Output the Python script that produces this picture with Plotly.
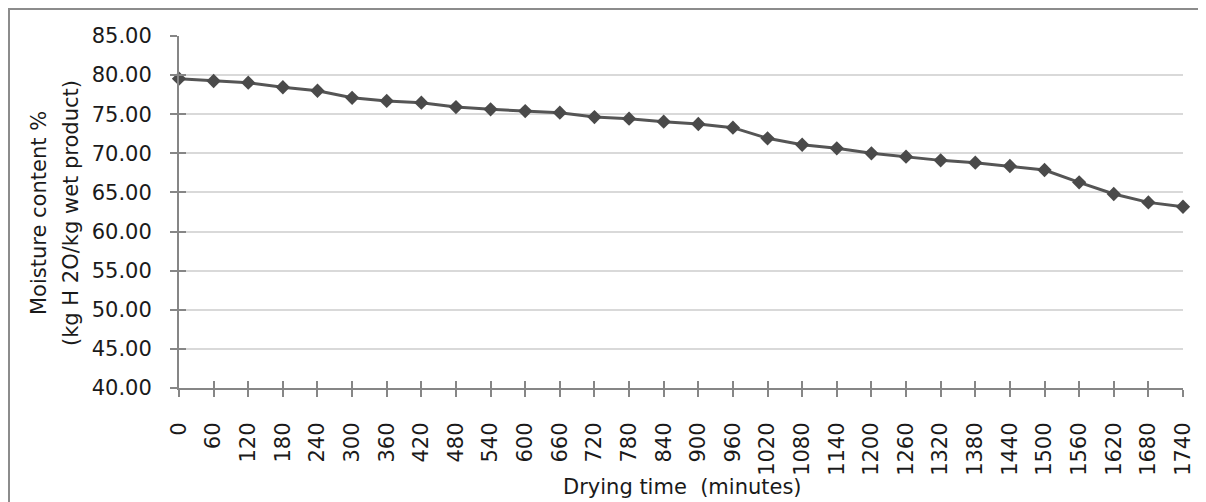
import plotly.graph_objects as go

drying_time = [0, 60, 120, 180, 240, 300, 360, 420, 480, 540, 600, 660, 720, 780, 840,
               900, 960, 1020, 1080, 1140, 1200, 1260, 1320, 1380, 1440, 1500, 1560, 1620, 1680, 1740]
moisture = [79.55, 79.25, 79.03, 78.45, 78.0, 77.1, 76.7, 76.47, 75.92, 75.62, 75.4, 75.2, 74.64, 74.43, 74.05,
            73.75, 73.28, 71.92, 71.1, 70.64, 70.0, 69.57, 69.1, 68.8, 68.38, 67.87, 66.29, 64.8, 63.73, 63.17]
y_ticks = [40, 45, 50, 55, 60, 65, 70, 75, 80, 85]
x_title = "Drying time  (minutes)"
y_title_1 = "Moisture content %"
y_title_2 = "(kg H 2O/kg wet product)"

FONT = "DejaVu Sans"
AXIS_COL = "#868686"
OFF = 8  # page body margin
W, H = 1206 - OFF, 502 - OFF
# plot area in screen pixels: x 179..1183, y 36..388
L, T = 179 - OFF, 36 - OFF
R, B = W - (1183 - OFF), H - (388 - OFF)
pw, ph = W - L - R, H - T - B

fig = go.Figure()
fig.add_trace(go.Scatter(
    x=drying_time, y=moisture, mode="lines+markers",
    line=dict(color="#555555", width=3),
    marker=dict(symbol="diamond", size=11, color="#4a4a4a"),
    cliponaxis=False, showlegend=False, hoverinfo="x+y"))
# invisible helper trace for crossing tick marks
fig.add_trace(go.Scatter(
    x=drying_time, y=moisture, mode="lines", line=dict(width=0),
    xaxis="x2", yaxis="y2", showlegend=False, hoverinfo="skip"))

common_font = dict(family=FONT, size=21, color="#1a1a1a")

fig.update_layout(
    width=W, height=H,
    margin=dict(l=L, r=R, t=T, b=B, autoexpand=False),
    paper_bgcolor="white", plot_bgcolor="white",
    font=common_font,
    xaxis=dict(range=[0, 1740], tickmode="array", tickvals=drying_time,
               ticktext=[str(v) for v in drying_time], tickangle=-90,
               ticks="outside", ticklen=7, tickwidth=2, tickcolor=AXIS_COL,
               showline=True, linecolor=AXIS_COL, linewidth=2,
               showgrid=False, zeroline=False, ticklabelstandoff=17,
               tickfont=common_font, automargin=False),
    yaxis=dict(range=[40, 85], tickmode="array", tickvals=y_ticks,
               ticktext=[f"{v:.2f}" for v in y_ticks],
               ticks="outside", ticklen=7, tickwidth=2, tickcolor=AXIS_COL,
               showline=True, linecolor=AXIS_COL, linewidth=2,
               showgrid=True, gridcolor="#d9d9d9", gridwidth=2,
               zeroline=False, ticklabelstandoff=14, tickfont=common_font,
               automargin=False),
    xaxis2=dict(overlaying="x", anchor="y2", side="bottom", range=[0, 1740],
                tickmode="array", tickvals=drying_time, showticklabels=False,
                ticks="inside", ticklen=7, tickwidth=2, tickcolor=AXIS_COL,
                showline=False, showgrid=False, zeroline=False, automargin=False),
    yaxis2=dict(overlaying="y", anchor="x2", side="left", range=[40, 85],
                tickmode="array", tickvals=y_ticks, showticklabels=False,
                ticks="inside", ticklen=7, tickwidth=2, tickcolor=AXIS_COL,
                showline=False, showgrid=False, zeroline=False, automargin=False),
)

def px_x(p):
    return (p - OFF - L) / pw

def px_y(p):
    return (H - B - (p - OFF)) / ph

fig.add_annotation(text=y_title_1, xref="paper", yref="paper",
                   x=px_x(39), y=px_y(213), textangle=-90, showarrow=False,
                   xanchor="center", yanchor="middle", font=common_font)
fig.add_annotation(text=y_title_2, xref="paper", yref="paper",
                   x=px_x(71), y=px_y(213), textangle=-90, showarrow=False,
                   xanchor="center", yanchor="middle", font=common_font)
fig.add_annotation(text=x_title, xref="paper", yref="paper",
                   x=px_x(682), y=px_y(487), showarrow=False,
                   xanchor="center", yanchor="middle", font=common_font)

fig.add_shape(type="rect", xref="paper", yref="paper",
              x0=px_x(9), x1=px_x(1230), y0=px_y(600), y1=px_y(9),
              line=dict(color="#8c8c8c", width=2), fillcolor="rgba(0,0,0,0)", layer="below")

fig.write_html("out.html")
